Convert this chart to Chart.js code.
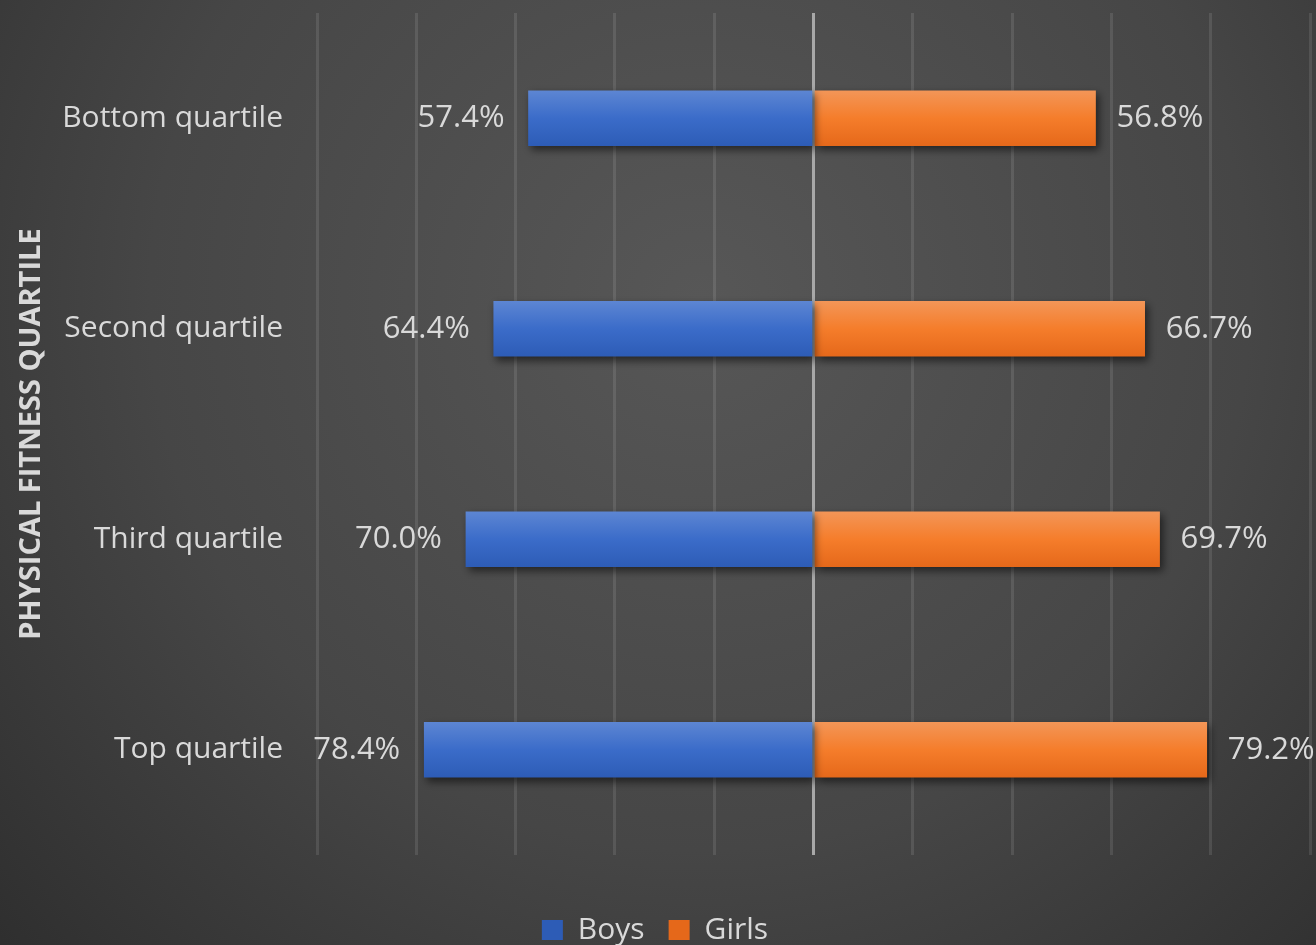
<!DOCTYPE html>
<html>
<head>
<meta charset="utf-8">
<script src="https://cdn.jsdelivr.net/npm/chart.js@4.4.1/dist/chart.umd.min.js"></script>
<style>
  html, body { margin: 0; padding: 0; overflow: hidden; background: #3a3a3a; }
  #wrap { width: 1316px; height: 955px; }
</style>
</head>
<body>
<div id="wrap"><canvas id="myChart"></canvas></div>
<script>
const quartiles = ['Bottom quartile', 'Second quartile', 'Third quartile', 'Top quartile'];
const boys = [57.4, 64.4, 70.0, 78.4];
const girls = [56.8, 66.7, 69.7, 79.2];
const textColor = '#d9d9d9';

// vertical shading for each bar, light on top and darker below
const barFill = (top, mid, bottom) => (c) => {
  const chart = c.chart;
  if (c.type !== 'data' || !chart.chartArea) return mid;
  const y = chart.scales.y.getPixelForValue(c.dataIndex);
  const g = chart.ctx.createLinearGradient(0, y - 28, 0, y + 28);
  g.addColorStop(0, top);
  g.addColorStop(0.5, mid);
  g.addColorStop(1, bottom);
  return g;
};

const background = {
  id: 'background',
  beforeDraw: (chart) => {
    const ctx = chart.ctx;
    const g = ctx.createRadialGradient(700, 300, 0, 700, 300, 1000);
    g.addColorStop(0, '#575757');
    g.addColorStop(0.55, '#464646');
    g.addColorStop(1, '#2c2c2c');
    ctx.save();
    ctx.fillStyle = g;
    ctx.fillRect(0, 0, chart.width, chart.height);
    ctx.restore();
  }
};

const barLabels = {
  id: 'barLabels',
  beforeDatasetsDraw: (chart) => {
    const ctx = chart.ctx;
    ctx.save();
    ctx.shadowColor = 'rgba(0,0,0,0.55)';
    ctx.shadowBlur = 8;
    ctx.shadowOffsetX = 3;
    ctx.shadowOffsetY = 4;
  },
  afterDatasetsDraw: (chart) => {
    const ctx = chart.ctx;
    ctx.restore();
    ctx.save();
    ctx.font = '31px "Open Sans"';
    ctx.fillStyle = textColor;
    ctx.textBaseline = 'middle';
    chart.data.datasets.forEach((ds, i) => {
      chart.getDatasetMeta(i).data.forEach((el, j) => {
        const v = ds.data[j];
        const txt = Math.abs(v).toFixed(1) + '%';
        if (v < 0) {
          ctx.textAlign = 'right';
          ctx.fillText(txt, el.x - 24, el.y);
        } else {
          ctx.textAlign = 'left';
          ctx.fillText(txt, el.x + 21, el.y);
        }
      });
    });
    ctx.restore();
  }
};

const myChart = new Chart(document.getElementById('myChart'), {
  type: 'bar',
  data: {
    labels: quartiles,
    datasets: [{
      label: 'Boys',
      data: boys.map(v => -v),
      backgroundColor: barFill('#5d86d3', '#3b6cc9', '#2d5cb6'),
      barThickness: 55
    }, {
      label: 'Girls',
      data: girls,
      backgroundColor: barFill('#f39658', '#f57d2b', '#e5681a'),
      barThickness: 55
    }]
  },
  options: {
    indexAxis: 'y',
    responsive: true,
    maintainAspectRatio: false,
    animation: false,
    layout: { padding: { top: 13, right: 6, left: 0, bottom: 0 } },
    scales: {
      x: {
        stacked: true,
        min: -100,
        max: 100,
        ticks: { display: false, stepSize: 20 },
        grid: {
          drawTicks: false,
          lineWidth: 3,
          color: (c) => c.tick && c.tick.value === 0 ? '#a8a8a8' : 'rgba(255,255,255,0.1)'
        },
        border: { display: false },
        afterFit: (scale) => { scale.height = 36; }
      },
      y: {
        stacked: true,
        grid: { display: false },
        border: { display: false },
        ticks: {
          color: textColor,
          padding: 26,
          font: { family: 'Open Sans', size: 30 }
        },
        title: {
          display: true,
          text: 'PHYSICAL FITNESS QUARTILE',
          color: textColor,
          padding: { top: 14, bottom: 0 },
          font: { family: 'Open Sans', size: 29, weight: 'bold' }
        },
        afterFit: (scale) => {
          scale.width = 317;
          scale.paddingTop = 0;
          scale.paddingBottom = 0;
        }
      }
    },
    plugins: {
      legend: {
        position: 'bottom',
        labels: {
          color: textColor,
          boxWidth: 21,
          boxHeight: 20,
          padding: 24,
          font: { family: 'Open Sans', size: 30 }
        }
      },
      tooltip: { enabled: false }
    }
  },
  plugins: [background, barLabels]
});
</script>
</body>
</html>
